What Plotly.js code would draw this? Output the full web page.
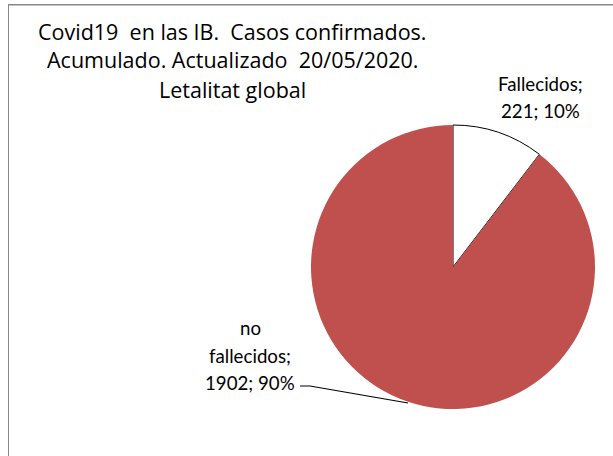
<!DOCTYPE html>
<html>
<head>
<meta charset="utf-8">
<script src="https://cdn.plot.ly/plotly-3.0.1.min.js"></script>
<style>
html,body{margin:0;padding:0;background:#fff;}
#wrap{position:relative;width:613px;height:456px;overflow:hidden;}
#chart{width:613px;height:456px;}
#frame{position:absolute;left:8px;top:4px;width:700px;height:600px;border-left:1px solid #878787;border-top:1px solid #878787;pointer-events:none;z-index:10;}
</style>
</head>
<body>
<div id="wrap"><div id="chart"></div><div id="frame"></div></div>
<script>
const categories = ["Fallecidos", "no fallecidos"];
const values = [221, 1902];
const percentLabels = ["10%", "90%"];
const sliceColors = ["#FFFFFF", "#C0504D"];
const titleLines = ["Covid19  en las IB.  Casos confirmados.", "Acumulado. Actualizado  20/05/2020.", "Letalitat global"];

const W = 613, H = 456;
const px = x => x / W;
const py = y => 1 - y / H;
const TFONT = "'Open Sans', 'Noto Sans', sans-serif";
const LFONT = "Lato, 'Liberation Sans', sans-serif";

const annotations = [];
const titleY = [31, 60, 89];
titleLines.forEach((t, i) => annotations.push({
  text: t, xref: "paper", yref: "paper", x: px(232.5), y: py(titleY[i]),
  xanchor: "center", yanchor: "middle", showarrow: false,
  font: {family: TFONT, size: 21.5, color: "#000"}
}));
function addLines(lines, cx, ys) {
  lines.forEach((t, i) => annotations.push({
    text: t, xref: "paper", yref: "paper", x: px(cx), y: py(ys[i]),
    xanchor: "center", yanchor: "middle", showarrow: false,
    font: {family: LFONT, size: 18.7, color: "#000"}
  }));
}
addLines([categories[0] + ";", values[0] + "; " + percentLabels[0]], 540.5, [84, 111]);
const nf = categories[1].split(" ");
addLines([nf[0], nf[1] + ";", values[1] + "; " + percentLabels[1]], 250, [328, 356, 383]);

const data = [{
  type: "pie",
  labels: categories,
  values: values,
  sort: false,
  direction: "clockwise",
  rotation: 0,
  textinfo: "none",
  hoverinfo: "label+value+percent",
  marker: {colors: sliceColors, line: {color: ["#000000", "rgba(0,0,0,0)"], width: [1, 0]}},
  domain: {x: [px(311), px(595)], y: [py(409), py(125)]},
  showlegend: false
}];

const layout = {
  width: W, height: H,
  margin: {l: 0, r: 0, t: 0, b: 0},
  paper_bgcolor: "#fff",
  showlegend: false,
  annotations: annotations,
  shapes: [
    {type: "line", xref: "paper", yref: "paper", x0: px(8), y0: py(5), x1: 1, y1: py(5),
     line: {color: "#878787", width: 1}},
    {type: "path", xref: "paper", yref: "paper",
     path: "M" + px(300) + "," + py(386) + " L" + px(310) + "," + py(386) + " L" + px(408) + "," + py(403),
     line: {color: "#000", width: 1.2}}
  ]
};

Plotly.newPlot("chart", data, layout, {displayModeBar: false, staticPlot: true});
</script>
</body>
</html>
